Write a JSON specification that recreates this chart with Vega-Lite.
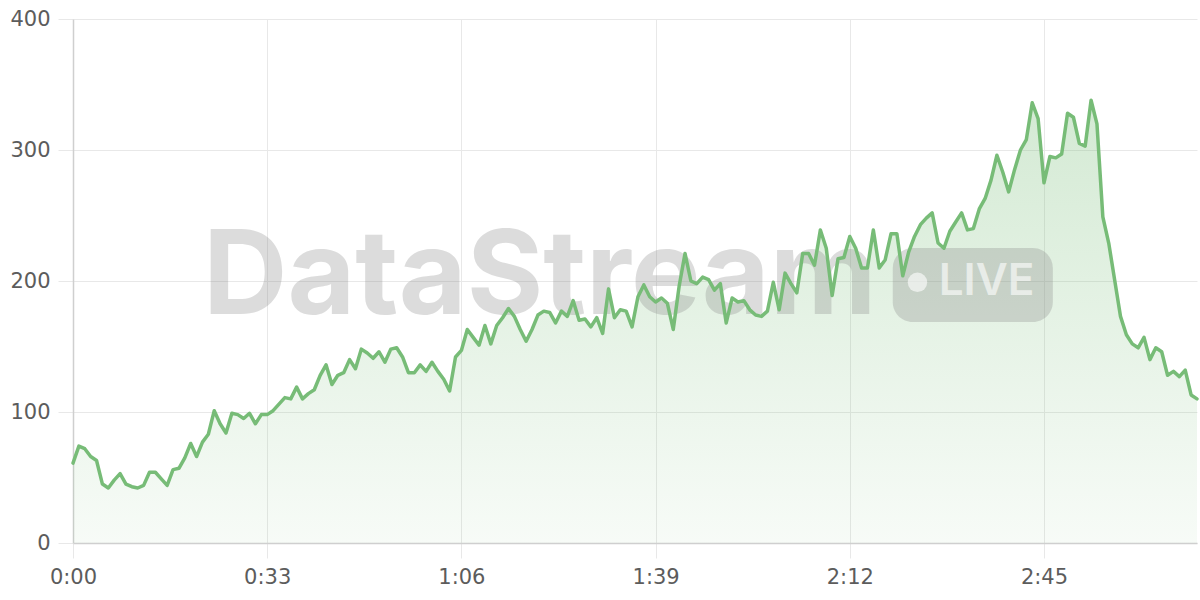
{
  "$schema": "https://vega.github.io/schema/vega-lite/v6.json",
  "width": 1124,
  "height": 524,
  "autosize": "none",
  "padding": {"left": 73, "top": 19, "right": 3, "bottom": 57},
  "background": "white",
  "config": {
    "view": {"stroke": null},
    "font": "DejaVu Sans",
    "axis": {
      "labelFont": "DejaVu Sans",
      "labelFontSize": 21,
      "labelColor": "#5c5c5c",
      "gridColor": "#e8e8e8",
      "gridWidth": 1,
      "tickColor": "#e8e8e8",
      "tickSize": 15,
      "domainColor": "#cfcfcf",
      "domainWidth": 1.5,
      "title": null
    }
  },
  "datasets": {
    "series": [
      {"t":0,"v":61},{"t":1,"v":74},{"t":2,"v":72},{"t":3,"v":66},{"t":4,"v":63},{"t":5,"v":45},{"t":6,"v":42},{"t":7,"v":48},{"t":8,"v":53},{"t":9,"v":45},
      {"t":10,"v":43},{"t":11,"v":42},{"t":12,"v":44},{"t":13,"v":54},{"t":14,"v":54},{"t":15,"v":49},{"t":16,"v":44},{"t":17,"v":56},{"t":18,"v":57},{"t":19,"v":65},
      {"t":20,"v":76},{"t":21,"v":66},{"t":22,"v":77},{"t":23,"v":83},{"t":24,"v":101},{"t":25,"v":91},{"t":26,"v":84},{"t":27,"v":99},{"t":28,"v":98},{"t":29,"v":95},
      {"t":30,"v":99},{"t":31,"v":91},{"t":32,"v":98},{"t":33,"v":98},{"t":34,"v":101},{"t":35,"v":106},{"t":36,"v":111},{"t":37,"v":110},{"t":38,"v":119},{"t":39,"v":110},
      {"t":40,"v":114},{"t":41,"v":117},{"t":42,"v":128},{"t":43,"v":136},{"t":44,"v":121},{"t":45,"v":128},{"t":46,"v":130},{"t":47,"v":140},{"t":48,"v":133},{"t":49,"v":148},
      {"t":50,"v":145},{"t":51,"v":141},{"t":52,"v":146},{"t":53,"v":138},{"t":54,"v":148},{"t":55,"v":149},{"t":56,"v":142},{"t":57,"v":130},{"t":58,"v":130},{"t":59,"v":136},
      {"t":60,"v":131},{"t":61,"v":138},{"t":62,"v":131},{"t":63,"v":125},{"t":64,"v":116},{"t":65,"v":142},{"t":66,"v":147},{"t":67,"v":163},{"t":68,"v":157},{"t":69,"v":151},
      {"t":70,"v":166},{"t":71,"v":152},{"t":72,"v":166},{"t":73,"v":172},{"t":74,"v":179},{"t":75,"v":173},{"t":76,"v":163},{"t":77,"v":154},{"t":78,"v":163},{"t":79,"v":174},
      {"t":80,"v":177},{"t":81,"v":176},{"t":82,"v":168},{"t":83,"v":177},{"t":84,"v":173},{"t":85,"v":185},{"t":86,"v":170},{"t":87,"v":171},{"t":88,"v":165},{"t":89,"v":172},
      {"t":90,"v":160},{"t":91,"v":194},{"t":92,"v":172},{"t":93,"v":178},{"t":94,"v":177},{"t":95,"v":165},{"t":96,"v":188},{"t":97,"v":197},{"t":98,"v":188},{"t":99,"v":184},
      {"t":100,"v":187},{"t":101,"v":183},{"t":102,"v":163},{"t":103,"v":196},{"t":104,"v":221},{"t":105,"v":200},{"t":106,"v":198},{"t":107,"v":203},{"t":108,"v":201},{"t":109,"v":193},
      {"t":110,"v":198},{"t":111,"v":168},{"t":112,"v":187},{"t":113,"v":184},{"t":114,"v":185},{"t":115,"v":178},{"t":116,"v":174},{"t":117,"v":173},{"t":118,"v":177},{"t":119,"v":199},
      {"t":120,"v":178},{"t":121,"v":206},{"t":122,"v":198},{"t":123,"v":191},{"t":124,"v":221},{"t":125,"v":221},{"t":126,"v":212},{"t":127,"v":239},{"t":128,"v":225},{"t":129,"v":189},
      {"t":130,"v":217},{"t":131,"v":218},{"t":132,"v":234},{"t":133,"v":225},{"t":134,"v":210},{"t":135,"v":210},{"t":136,"v":239},{"t":137,"v":210},{"t":138,"v":216},{"t":139,"v":236},
      {"t":140,"v":236},{"t":141,"v":204},{"t":142,"v":222},{"t":143,"v":234},{"t":144,"v":243},{"t":145,"v":248},{"t":146,"v":252},{"t":147,"v":229},{"t":148,"v":225},{"t":149,"v":238},
      {"t":150,"v":245},{"t":151,"v":252},{"t":152,"v":239},{"t":153,"v":240},{"t":154,"v":255},{"t":155,"v":263},{"t":156,"v":277},{"t":157,"v":296},{"t":158,"v":283},{"t":159,"v":268},
      {"t":160,"v":285},{"t":161,"v":300},{"t":162,"v":308},{"t":163,"v":336},{"t":164,"v":324},{"t":165,"v":275},{"t":166,"v":295},{"t":167,"v":294},{"t":168,"v":297},{"t":169,"v":328},
      {"t":170,"v":325},{"t":171,"v":305},{"t":172,"v":303},{"t":173,"v":338},{"t":174,"v":320},{"t":175,"v":249},{"t":176,"v":229},{"t":177,"v":201},{"t":178,"v":173},{"t":179,"v":159},
      {"t":180,"v":152},{"t":181,"v":149},{"t":182,"v":157},{"t":183,"v":140},{"t":184,"v":149},{"t":185,"v":146},{"t":186,"v":128},{"t":187,"v":131},{"t":188,"v":127},{"t":189,"v":132},
      {"t":190,"v":113},{"t":191,"v":110}
    ],
    "brand": [{"label": "DataStream", "t": 79.3, "v": 175}],
    "badge": [{"label": "LIVE", "t": 139.3, "t2": 166.5, "v": 225.2, "v2": 168.7, "dt": 143.5, "dv": 199, "lt": 147.1, "lv": 189.3}]
  },
  "layer": [
    {
      "data": {"name": "series"},
      "mark": {
        "type": "area",
        "interpolate": "linear",
        "color": {
          "gradient": "linear",
          "x1": 0, "y1": 0, "x2": 0, "y2": 1,
          "stops": [
            {"offset": 0, "color": "rgba(120,189,120,0.32)"},
            {"offset": 1, "color": "rgba(120,189,120,0.06)"}
          ]
        }
      },
      "encoding": {
        "x": {
          "field": "t",
          "type": "quantitative",
          "scale": {"domain": [0, 191], "nice": false, "zero": false},
          "axis": {
            "values": [0, 33, 66, 99, 132, 165],
            "labelExpr": "floor(datum.value/60) + ':' + (datum.value % 60 < 10 ? '0' : '') + (datum.value % 60)",
            "labelPadding": 8,
            "labelFlush": false
          }
        },
        "y": {
          "field": "v",
          "type": "quantitative",
          "scale": {"domain": [0, 400], "nice": false},
          "axis": {"values": [0, 100, 200, 300, 400], "labelPadding": 8}
        }
      }
    },
    {
      "data": {"name": "brand"},
      "mark": {"type": "text", "font": "Inter", "fontWeight": "bold", "fontSize": 117, "align": "center", "baseline": "alphabetic", "color": "#808080", "opacity": 0.27},
      "encoding": {
        "x": {"field": "t", "type": "quantitative"},
        "y": {"field": "v", "type": "quantitative"},
        "text": {"field": "label"}
      }
    },
    {
      "data": {"name": "badge"},
      "mark": {"type": "rect", "cornerRadius": 20, "color": "#888888", "opacity": 0.3},
      "encoding": {
        "x": {"field": "t", "type": "quantitative"},
        "x2": {"field": "t2"},
        "y": {"field": "v", "type": "quantitative"},
        "y2": {"field": "v2"}
      }
    },
    {
      "data": {"name": "badge"},
      "mark": {"type": "point", "shape": "circle", "filled": true, "size": 380, "color": "white", "opacity": 0.6},
      "encoding": {
        "x": {"field": "dt", "type": "quantitative"},
        "y": {"field": "dv", "type": "quantitative"}
      }
    },
    {
      "data": {"name": "badge"},
      "mark": {"type": "text", "font": "Inter", "fontWeight": 600, "fontSize": 44, "align": "left", "baseline": "alphabetic", "color": "white", "opacity": 0.6},
      "encoding": {
        "x": {"field": "lt", "type": "quantitative"},
        "y": {"field": "lv", "type": "quantitative"},
        "text": {"field": "label"}
      }
    },
    {
      "data": {"name": "series"},
      "mark": {"type": "line", "interpolate": "linear", "color": "#77bc77", "strokeWidth": 3.5, "strokeJoin": "round", "strokeCap": "round"},
      "encoding": {
        "x": {"field": "t", "type": "quantitative"},
        "y": {"field": "v", "type": "quantitative"}
      }
    }
  ]
}
